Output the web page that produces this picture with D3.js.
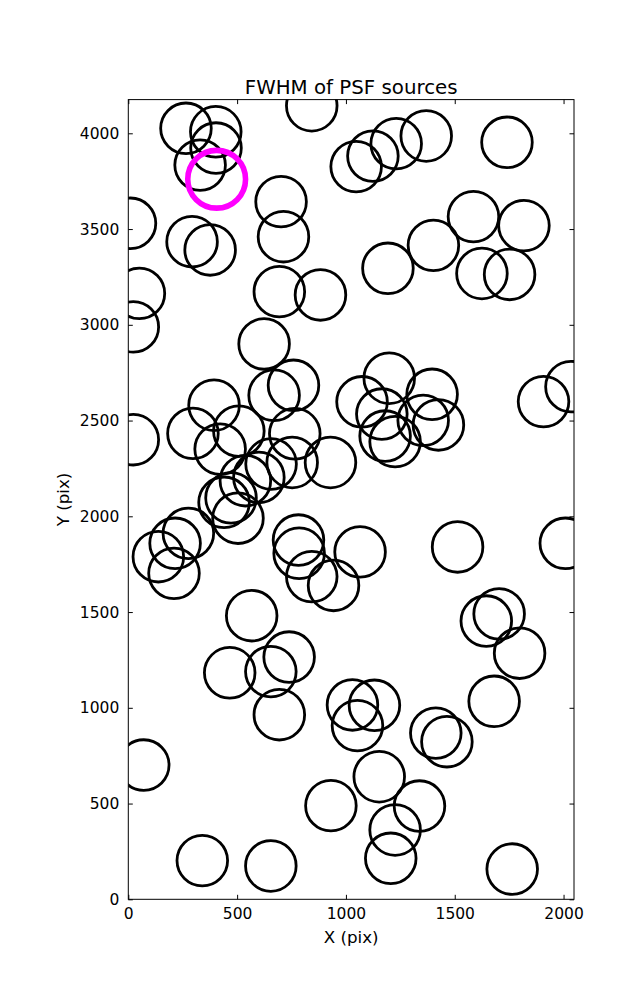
<!DOCTYPE html>
<html>
<head>
<meta charset="utf-8">
<script src="https://cdn.jsdelivr.net/npm/d3@7"></script>
<style>
  html, body { margin: 0; padding: 0; background: #fff; }
  svg { display: block; }
  text { font-family: "DejaVu Sans", sans-serif; fill: #000; }
</style>
</head>
<body>
<script>
// ---- data ----
const sourceX = [265, 402, 403, 330, 843, 1047, 1124, 1231, 1369, 1740,
  10, 702, 293, 713, 376, 51, 23, 694, 883, 1193,
  1402, 1586, 1818, 1625, 1752, 624, 759, 670, 394, 23,
  297, 508, 422, 765, 753, 656, 600, 538, 472, 440,
  504, 929, 1074, 1165, 1199, 1396, 1355, 1425, 1180, 1226,
  1908, 2034, 2008, 1513, 782, 785, 843, 943, 1065, 276,
  215, 138, 210, 567, 1645, 1704, 1798, 739, 655, 466,
  694, 1030, 1131, 1053, 1681, 1413, 1464, 71, 1153, 931,
  1338, 1226, 1206, 340, 655, 1764];
const sourceY = [4026, 4008, 3923, 3834, 4144, 3826, 3881, 3946, 3986, 3953,
  3530, 3643, 3434, 3460, 3391, 3164, 2989, 3173, 3156, 3295,
  3415, 3565, 3518, 3268, 3263, 2900, 2684, 2632, 2580, 2400,
  2433, 2445, 2351, 2431, 2281, 2273, 2203, 2186, 2096, 2073,
  1990, 2281, 2598, 2534, 2721, 2637, 2501, 2477, 2419, 2390,
  2599, 2677, 1859, 1840, 1876, 1807, 1685, 1639, 1814, 1911,
  1859, 1789, 1702, 1481, 1453, 1490, 1285, 1265, 1189, 1183,
  964, 1015, 1013, 907, 1034, 868, 823, 701, 640, 489,
  487, 362, 214, 202, 174, 158];
const highlightX = [406];
const highlightY = [3760];
const xTicks = [0, 500, 1000, 1500, 2000];
const yTicks = [0, 500, 1000, 1500, 2000, 2500, 3000, 3500, 4000];
const xDomain = [0, 2048];
const yDomain = [0, 4176];

(function () {
// ---- layout ----
const W = 637, H = 1000;
const mLeft = 128.3, mRight = 574, mTop = 99.6, mBottom = 899.3;

const svg = d3.select("body").append("svg").attr("width", W).attr("height", H);

const x = d3.scaleLinear().domain(xDomain).range([mLeft, mRight]);
const y = d3.scaleLinear().domain(yDomain).range([mBottom, mTop]);

svg.append("defs").append("clipPath").attr("id", "plotclip")
  .append("rect").attr("x", mLeft).attr("y", mTop)
  .attr("width", mRight - mLeft).attr("height", mBottom - mTop);

const points = sourceX.map((v, i) => ({x: v, y: sourceY[i]}));
const hl = highlightX.map((v, i) => ({x: v, y: highlightY[i]}));

const g = svg.append("g").attr("clip-path", "url(#plotclip)");
g.selectAll("circle.src").data(points).enter().append("circle")
  .attr("class", "src")
  .attr("cx", d => x(d.x)).attr("cy", d => y(d.y)).attr("r", 25.3)
  .attr("fill", "none").attr("stroke", "#000").attr("stroke-width", 2.8);
g.selectAll("circle.hl").data(hl).enter().append("circle")
  .attr("class", "hl")
  .attr("cx", d => x(d.x)).attr("cy", d => y(d.y)).attr("r", 28.9)
  .attr("fill", "none").attr("stroke", "#ff00ff").attr("stroke-width", 5.6);

// axes (inward ticks, on all four sides)
const tickLen = 4.5;
const fs = 15.5;
const fmt = d3.format("d");
const xb = d3.axisBottom(x).tickValues(xTicks).tickFormat(fmt).tickSizeInner(-tickLen).tickSizeOuter(0).tickPadding(9);
const xt = d3.axisTop(x).tickValues(xTicks).tickSizeInner(-tickLen).tickSizeOuter(0).tickFormat("");
const yl = d3.axisLeft(y).tickValues(yTicks).tickFormat(fmt).tickSizeInner(-tickLen).tickSizeOuter(0).tickPadding(9);
const yr = d3.axisRight(y).tickValues(yTicks).tickSizeInner(-tickLen).tickSizeOuter(0).tickFormat("");

function style(sel) {
  sel.select(".domain").remove();
  sel.selectAll(".tick line").attr("stroke", "#000").attr("stroke-width", 1);
  sel.selectAll(".tick text").attr("font-size", fs).attr("font-family", "DejaVu Sans").attr("fill", "#000");
}
svg.append("g").attr("transform", `translate(0,${mBottom})`).call(xb).call(style);
svg.append("g").attr("transform", `translate(0,${mTop})`).call(xt).call(style);
svg.append("g").attr("transform", `translate(${mLeft},0)`).call(yl).call(style);
svg.append("g").attr("transform", `translate(${mRight},0)`).call(yr).call(style);

// frame
svg.append("rect").attr("x", mLeft).attr("y", mTop)
  .attr("width", mRight - mLeft).attr("height", mBottom - mTop)
  .attr("fill", "none").attr("stroke", "#000").attr("stroke-width", 1);

// labels
svg.append("text").attr("x", (mLeft + mRight) / 2).attr("y", 94)
  .attr("text-anchor", "middle").attr("font-size", 19.8).text("FWHM of PSF sources");
svg.append("text").attr("x", (mLeft + mRight) / 2).attr("y", 943)
  .attr("text-anchor", "middle").attr("font-size", 16.7).text("X (pix)");
svg.append("text").attr("transform", `translate(69,${(mTop + mBottom) / 2}) rotate(-90)`)
  .attr("text-anchor", "middle").attr("font-size", 16.7).text("Y (pix)");
})();
</script>
</body>
</html>
